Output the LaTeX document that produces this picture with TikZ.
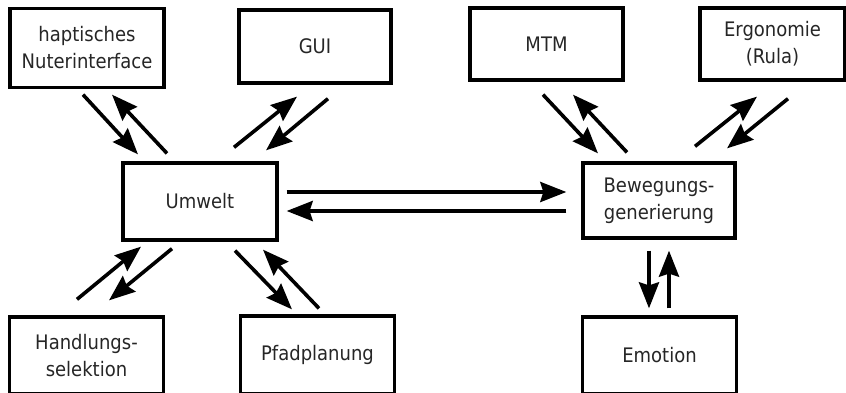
\documentclass[tikz,border=0pt]{standalone}
\usepackage{fontspec}
\setmainfont{DejaVu Sans}[FakeStretch=0.9]
\usepackage{tikz}
\usetikzlibrary{arrows.meta,positioning,calc}

\begin{document}
\begin{tikzpicture}[
  x=1pt, y=-1pt,
  font=\fontsize{20}{27}\selectfont,
  box/.style={draw, line width=3.3pt, align=center, text=black!85,
              minimum width=154pt, minimum height=76pt, inner sep=2pt},
  flow/.style={-{Stealth[length=26pt, width=20pt, inset=3pt]}, line width=3.6pt}
]
\useasboundingbox (0,0) rectangle (846,392);
% top row
\node[box, minimum height=79pt] (haptik) at (87,48) {haptisches\\Nuterinterface};
\node[box, minimum width=152pt, minimum height=73pt] (gui) at (315,46.5) {GUI};
\node[box, minimum width=153pt, minimum height=72pt] (mtm) at (546.5,44) {MTM};
\node[box, minimum width=145pt, minimum height=72pt] (ergo) at (772.5,44) {Ergonomie\\(Rula)};
% middle row
\node[box, minimum height=77pt] (umwelt) at (200,201.5) {Umwelt};
\node[box, minimum width=152pt, minimum height=75pt] (bewegung) at (659,200.5) {Bewegungs-\\generierung};
% bottom row
\node[box, minimum height=77pt] (handlung) at (86.5,355.5) {Handlungs-\\selektion};
\node[box, minimum height=78pt] (pfad) at (317.5,355) {Pfadplanung};
\node[box, minimum height=77pt] (emotion) at (659.5,355.5) {Emotion};

% Umwelt <-> its modules
\draw[flow] ($(haptik.south)+(-4,5.5)$) -- ($(umwelt.north)+(-62,-7)$);
\draw[flow] ($(umwelt.north)+(-33,-8)$) -- ($(haptik.south)+(25,5.5)$);
\draw[flow] ($(umwelt.north)+(34,-14)$) -- ($(gui.south)+(-18,12)$);
\draw[flow] ($(gui.south)+(13,14)$) -- ($(umwelt.north)+(66,-11)$);
\draw[flow] ($(handlung.north)+(-9.5,-16)$) -- ($(umwelt.south)+(-59,5)$);
\draw[flow] ($(umwelt.south)+(-28,7)$) -- ($(handlung.north)+(22.5,-15)$);
\draw[flow] ($(umwelt.south)+(35,9)$) -- ($(pfad.north)+(-25.5,-5)$);
\draw[flow] ($(pfad.north)+(1.5,-6)$) -- ($(umwelt.south)+(63,8)$);

% Umwelt <-> Bewegungsgenerierung
\draw[flow] ($(umwelt.east)+(8,-9.5)$) -- ($(bewegung.west)+(-15,-8.5)$);
\draw[flow] ($(bewegung.west)+(-15,10.5)$) -- ($(umwelt.east)+(8,9.5)$);

% Bewegungsgenerierung <-> its modules
\draw[flow] ($(mtm.south)+(-3.5,13)$) -- ($(bewegung.north)+(-61,-8)$);
\draw[flow] ($(bewegung.north)+(-32,-9)$) -- ($(mtm.south)+(26.5,13)$);
\draw[flow] ($(bewegung.north)+(36,-15)$) -- ($(ergo.south)+(-15.5,15)$);
\draw[flow] ($(ergo.south)+(15.5,17)$) -- ($(bewegung.north)+(68,-13)$);
\draw[flow] ($(bewegung.south)+(-10,11)$) -- ($(emotion.north)+(-10.5,-7)$);
\draw[flow] ($(emotion.north)+(9.5,-7)$) -- ($(bewegung.south)+(10,11)$);
\end{tikzpicture}
\end{document}
